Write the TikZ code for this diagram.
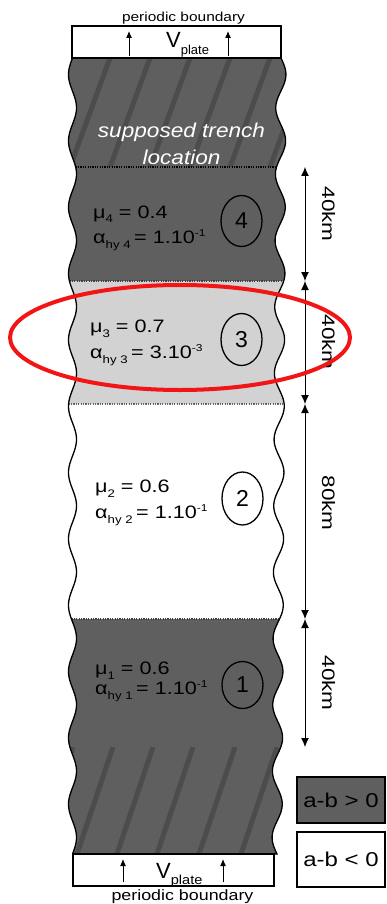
\documentclass[tikz,border=0pt]{standalone}
\usepackage{fontspec}
\setmainfont{Liberation Sans}
\usetikzlibrary{arrows.meta,shapes.geometric}
\definecolor{darkz}{HTML}{5F5F5F}
\definecolor{stripec}{HTML}{4C4C4C}
\definecolor{lightz}{HTML}{D2D2D2}
\definecolor{ringred}{HTML}{F21515}
\newcommand{\fs}[1]{\fontsize{#1}{#1}\selectfont}
\newcommand{\lo}[1]{\raisebox{-5pt}{\fs{11}#1}}
\newcommand{\hi}[1]{\raisebox{7pt}{\fs{10}#1}}
\newcommand{\sx}[1]{\scalebox{1.2}[1]{#1}}
\newcommand{\zonepath}[2]{plot[domain=#1:#2,samples=80,variable=\t] ({lx(\t)},\t) -- plot[domain=#2:#1,samples=80,variable=\t] ({rx(\t)},\t) -- cycle}
\begin{document}
\begin{tikzpicture}[x=1pt,y=-1pt,
  declare function={lx(\t)=72.5-4*sin(5.4271*(\t-58)); rx(\t)=281-0.005025*(\t-58)+5*sin(5.4271*(\t-58));},
  ztext/.style={anchor=base west,inner sep=0pt,font=\fs{18}},
  numcirc/.style={ellipse,draw,line width=1.3pt,inner sep=0pt,minimum width=41pt,minimum height=51pt,font=\fs{23}},
  zdot/.style={line width=1.1pt,dash pattern=on 1.2pt off 1.2pt},
  dimarrow/.style={line width=1pt,{Latex[length=9pt,width=8pt]}-{Latex[length=9pt,width=8pt]}},
  platearrow/.style={line width=1pt,-{Latex[length=7pt,width=6pt]}},
  boxline/.style={draw=black,line width=1.3pt},
  dimlabel/.style={rotate=-90,inner sep=0pt,font=\fs{18}},
  legtext/.style={inner sep=0pt,font=\fs{20}}]
\useasboundingbox (0,0) rectangle (386,904);
% zone fills
\fill[darkz] \zonepath{58}{281};
\fill[lightz] \zonepath{281}{404};
\fill[white] \zonepath{404}{619};
\fill[darkz] \zonepath{619}{854};
% stripes top
\begin{scope}
\clip \zonepath{58}{167};
\foreach \a in {70,110,...,310} \draw[stripec,line width=5pt] (\a,58) -- (\a-40,167);
\end{scope}
% stripes bottom
\begin{scope}
\clip \zonepath{747}{854};
\foreach \a in {73,113,153,193,235,277} \draw[stripec,line width=5pt] (\a,747) -- (\a-36,854);
\end{scope}
% dotted boundaries
\draw[zdot,black] ({lx(167)},167) -- ({rx(167)},167);
\draw[zdot,black!75] ({lx(281)},281) -- ({rx(281)},281);
\draw[zdot,black!60] ({lx(404)},404) -- ({rx(404)},404);
\draw[zdot,black!75] ({lx(619)},619) -- ({rx(619)},619);
% wavy edges
\draw[line width=1.3pt] plot[domain=58:854,samples=400,variable=\t] ({lx(\t)},\t);
\draw[line width=1.3pt] plot[domain=58:854,samples=400,variable=\t] ({rx(\t)},\t) -- (274,854);
% boundary boxes
\draw[boxline,fill=white] (72,26) rectangle (281,58);
\draw[boxline,fill=white] (73,854) rectangle (274,886);
\node[anchor=base,inner sep=0pt,font=\fs{13}] (pbtop) at (183.5,21.5) {\scalebox{1.19}[1]{periodic boundary}};
\node[anchor=base,inner sep=0pt,font=\fs{15}] (pbbot) at (182.5,900) {\scalebox{1.19}[1]{periodic boundary}};
\node[anchor=base west,inner sep=0pt,font=\fs{22}] (vtop) at (166,48) {V\raisebox{-7pt}{\fs{13}plate}};
\node[anchor=base west,inner sep=0pt,font=\fs{22}] (vbot) at (156,878) {V\raisebox{-6pt}{\fs{13}\scalebox{1.12}[1]{plate}}};
\coordinate (ta1) at (129,56); \coordinate (tb1) at (129,31);
\coordinate (ta2) at (228,56); \coordinate (tb2) at (228,31);
\coordinate (ba1) at (123,882); \coordinate (bb1) at (123,859);
\coordinate (ba2) at (223,882); \coordinate (bb2) at (223,859);
\draw[platearrow] (ta1) -- (tb1);
\draw[platearrow] (ta2) -- (tb2);
\draw[platearrow] (ba1) -- (bb1);
\draw[platearrow] (ba2) -- (bb2);
% trench text
\node[anchor=base,inner sep=0pt,text=white,font=\fs{20}\itshape] (tr1) at (181.5,138) {\scalebox{1.13}[1]{supposed trench}};
\node[anchor=base,inner sep=0pt,text=white,font=\fs{20}\itshape] (tr2) at (181.5,165) {\scalebox{1.13}[1]{location}};
% zone texts
\node[ztext] (m4) at (93,218) {\sx{μ\lo{4} = 0.4}};
\node[ztext] (a4) at (93,243) {\sx{α\lo{hy 4}\,= 1.10\hi{-1}}};
\node[numcirc] (c4) at (241.5,221) {4};
\node[ztext] (m3) at (90,332) {\sx{μ\lo{3} = 0.7}};
\node[ztext] (a3) at (90,358) {\sx{α\lo{hy 3}\,= 3.10\hi{-3}}};
\node[numcirc,minimum height=52pt] (c3) at (241.5,339.5) {3};
\node[ztext] (m2) at (95,492) {\sx{μ\lo{2} = 0.6}};
\node[ztext] (a2) at (95,518) {\sx{α\lo{hy 2}\,= 1.10\hi{-1}}};
\node[numcirc,minimum height=53pt] (c2) at (242.5,498.5) {2};
\node[ztext] (m1) at (95,674) {\sx{μ\lo{1} = 0.6}};
\node[ztext] (a1) at (95,694) {\sx{α\lo{hy 1}\,= 1.10\hi{-1}}};
\node[numcirc,minimum height=47pt] (c1) at (242.5,685) {1};
% dimension arrows
\coordinate (d0) at (305,167);
\coordinate (d1) at (305,281);
\coordinate (d2) at (305,404);
\coordinate (d3) at (305,619);
\coordinate (d4) at (305,747);
\draw[dimarrow] (d0) -- (d1);
\draw[dimarrow] (d1) -- (d2);
\draw[dimarrow] (d2) -- (d3);
\draw[dimarrow] (d3) -- (d4);
\node[dimlabel] (k1) at (328.5,214) {\scalebox{1.25}[1]{40km}};
\node[dimlabel] (k2) at (328.5,342) {\scalebox{1.25}[1]{40km}};
\node[dimlabel] (k3) at (328.5,503) {\scalebox{1.25}[1]{80km}};
\node[dimlabel] (k4) at (328.5,683) {\scalebox{1.25}[1]{40km}};
% legend
\draw[boxline,fill=darkz] (297,777) rectangle (385,823);
\draw[boxline,fill=white] (297,832) rectangle (385,887);
\node[legtext] (lg1) at (341,800) {\sx{a-b > 0}};
\node[legtext] (lg2) at (341,859.5) {\sx{a-b < 0}};
% red highlight
\draw[ringred,line width=4pt] (180,337.5) ellipse [x radius=170pt,y radius=52.5pt];
\end{tikzpicture}
\end{document}
